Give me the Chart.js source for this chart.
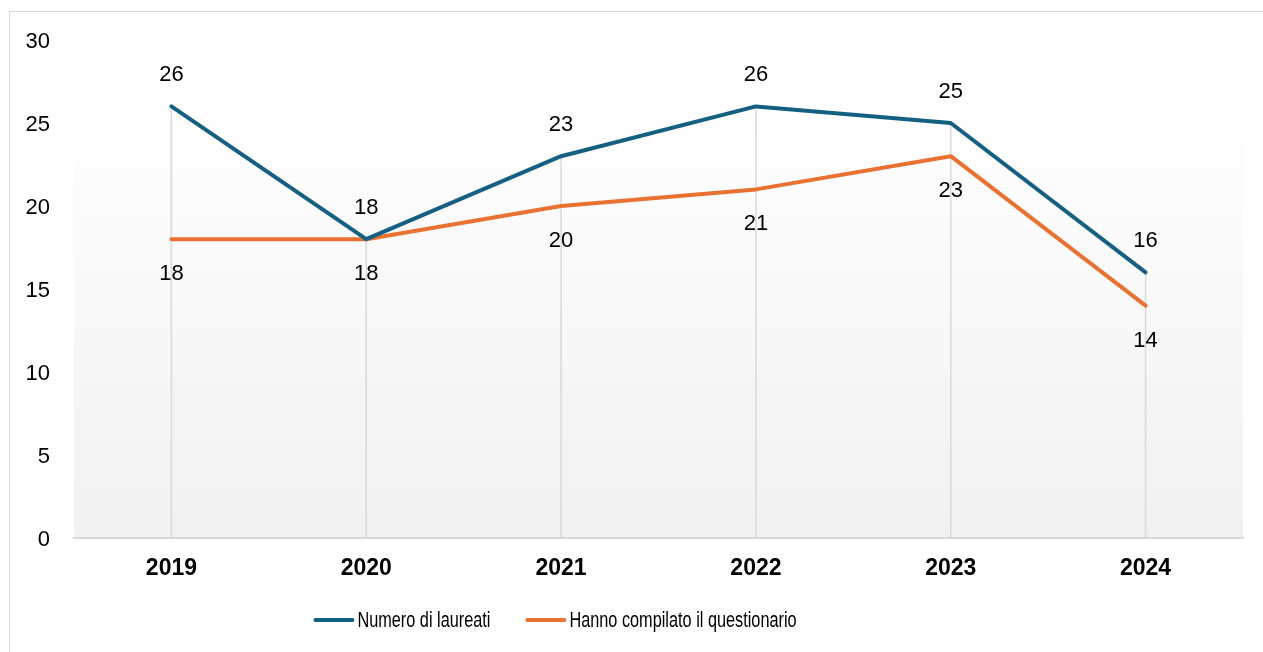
<!DOCTYPE html>
<html>
<head>
<meta charset="utf-8">
<script src="https://cdn.jsdelivr.net/npm/chart.js@4/dist/chart.umd.min.js"></script>
<style>
  html, body { margin: 0; padding: 0; background: #fff; overflow: hidden; }
  #wrap {
    position: absolute;
    left: 9px;
    top: 11px;
    width: 1253px;
    height: 680px;
    border-left: 1px solid #d9d9d9;
    border-top: 1px solid #d9d9d9;
  }
  canvas { display: block; }
</style>
</head>
<body>
<div id="wrap"><canvas id="lineChart" width="1253" height="680"></canvas></div>
<script>
// Chart data
const years = ["2019", "2020", "2021", "2022", "2023", "2024"];
const laureati = [26, 18, 23, 26, 25, 16];
const questionario = [18, 18, 20, 21, 23, 14];
const yTicks = [0, 5, 10, 15, 20, 25, 30];

const labelFont = "'Liberation Sans', Arial, sans-serif";

// light grey gradient behind the plot area
const plotBackground = {
  id: "plotBackground",
  beforeDraw(chart) {
    const { ctx, chartArea } = chart;
    const grad = ctx.createLinearGradient(0, chartArea.top, 0, chartArea.bottom);
    grad.addColorStop(0, "#ffffff");
    grad.addColorStop(0.12, "#ffffff");
    grad.addColorStop(1, "#f1f1f1");
    ctx.save();
    ctx.fillStyle = grad;
    ctx.fillRect(chartArea.left, chartArea.top, chartArea.right - chartArea.left, chartArea.bottom - chartArea.top);
    ctx.restore();
  },
};

// drop lines from the highest point down to the axis
const dropLines = {
  id: "dropLines",
  beforeDatasetsDraw(chart) {
    const { ctx, chartArea, scales } = chart;
    ctx.save();
    ctx.strokeStyle = "#d9d9d9";
    ctx.lineWidth = 1.5;
    years.forEach((year, i) => {
      const top = Math.max(laureati[i], questionario[i]);
      const x = scales.x.getPixelForValue(i);
      ctx.beginPath();
      ctx.moveTo(x, scales.y.getPixelForValue(top));
      ctx.lineTo(x, chartArea.bottom);
      ctx.stroke();
    });
    ctx.restore();
  },
};

// value labels: first series above, second below
const valueLabels = {
  id: "valueLabels",
  afterDatasetsDraw(chart) {
    const { ctx } = chart;
    ctx.save();
    ctx.font = "22px " + labelFont;
    ctx.fillStyle = "#000";
    ctx.textAlign = "center";
    ctx.textBaseline = "middle";
    chart.data.datasets.forEach((ds, d) => {
      const meta = chart.getDatasetMeta(d);
      meta.data.forEach((pt, i) => {
        const dy = d === 0 ? -31 : 35;
        ctx.fillText(String(ds.data[i]), pt.x, pt.y + dy);
      });
    });
    ctx.restore();
  },
};

// legend drawn by hand so the text can be narrowed like the original
const narrowLegend = {
  id: "narrowLegend",
  afterDraw(chart) {
    const { ctx } = chart;
    const squeeze = 0.74;
    const lineLen = 41;
    const gapText = 3;
    const gapItems = 35;
    const cy = 608;
    ctx.save();
    ctx.font = "22px " + labelFont;
    const items = chart.data.datasets.map((ds) => ({
      text: ds.label,
      color: ds.borderColor,
      w: ctx.measureText(ds.label).width * squeeze,
    }));
    let total = 0;
    items.forEach((it, i) => {
      total += lineLen + gapText + it.w + (i ? gapItems : 0);
    });
    let x = 545 - total / 2;
    items.forEach((it) => {
      ctx.strokeStyle = it.color;
      ctx.lineWidth = 4;
      ctx.lineCap = "round";
      ctx.beginPath();
      ctx.moveTo(x + 2, cy);
      ctx.lineTo(x + lineLen - 2, cy);
      ctx.stroke();
      x += lineLen + gapText;
      ctx.save();
      ctx.translate(x, cy);
      ctx.scale(squeeze, 1);
      ctx.fillStyle = "#000";
      ctx.textAlign = "left";
      ctx.textBaseline = "middle";
      ctx.fillText(it.text, 0, 1);
      ctx.restore();
      x += it.w + gapItems;
    });
    ctx.restore();
  },
};

const ctx = document.getElementById("lineChart").getContext("2d");

new Chart(ctx, {
  type: "line",
  data: {
    labels: years,
    datasets: [
      {
        label: "Numero di laureati",
        data: laureati,
        borderColor: "#156082",
        backgroundColor: "#156082",
        borderWidth: 4,
        borderCapStyle: "round",
        borderJoinStyle: "round",
        pointRadius: 0,
        tension: 0,
      },
      {
        label: "Hanno compilato il questionario",
        data: questionario,
        borderColor: "#e97132",
        backgroundColor: "#e97132",
        borderWidth: 4,
        borderCapStyle: "round",
        borderJoinStyle: "round",
        pointRadius: 0,
        tension: 0,
      },
    ],
  },
  options: {
    responsive: false,
    animation: false,
    layout: {
      padding: { top: 28, left: 0, right: 20, bottom: 114 },
    },
    scales: {
      x: {
        offset: true,
        grid: { display: false },
        border: { display: true, color: "#d9d9d9", width: 2 },
        ticks: {
          color: "#000",
          padding: 9,
          font: { family: labelFont, size: 23, weight: "bold" },
        },
        afterFit(scale) {
          scale.height = 40;
        },
      },
      y: {
        min: 0,
        max: 30,
        grid: { display: false, drawTicks: false },
        border: { display: false },
        afterBuildTicks(scale) {
          scale.ticks = yTicks.map((v) => ({ value: v }));
        },
        ticks: {
          color: "#000",
          padding: 24,
          labelOffset: 2,
          font: { family: labelFont, size: 22 },
        },
        afterFit(scale) {
          scale.width = 64;
          // tick padding is horizontal here, keep it from pushing the plot down
          scale.paddingTop = 0;
          scale.paddingBottom = 0;
        },
      },
    },
    plugins: {
      tooltip: { enabled: false },
      legend: { display: false },
    },
  },
  plugins: [plotBackground, dropLines, valueLabels, narrowLegend],
});
</script>
</body>
</html>
